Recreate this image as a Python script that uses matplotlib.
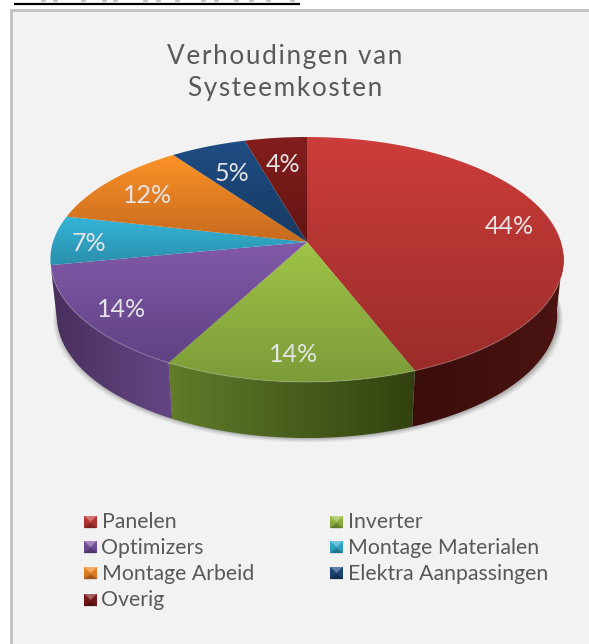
import numpy as np
import matplotlib
matplotlib.use("Agg")
import matplotlib.pyplot as plt
from matplotlib.patches import Polygon, Rectangle
from matplotlib.colors import LinearSegmentedColormap

plt.rcParams['font.family'] = ['Lato', 'DejaVu Sans']

# data
title_lines = ["Verhoudingen van", "Systeemkosten"]
categories = ["Panelen", "Inverter", "Optimizers", "Montage Materialen",
              "Montage Arbeid", "Elektra Aanpassingen", "Overig"]
values = [44.0, 13.9, 14.1, 6.5, 11.5, 5.5, 4.5]
percent_labels = ["44%", "14%", "14%", "7%", "12%", "5%", "4%"]

# colours: top face (light, dark), side wall (left, right)
top_colors = [("#cc3d3b", "#9a2c29"), ("#9fc447", "#7c9b39"), ("#8259a9", "#5f4283"),
              ("#35b5d8", "#2b8fac"), ("#fd9227", "#c56a1f"), ("#1f4d84", "#173a62"),
              ("#821e1d", "#641413")]
wall_colors = [("#3a0d0b", "#4a1411"), ("#617c2b", "#32410f"), ("#654686", "#472f5c")]

W, H = 589, 644
BG = "#f2f2f2"
TXT = "#595959"

# pie geometry in pixels, small perspective so the centre sits above the ellipse centre
CX, CY = 307, 242
RX, RY = 254, 120
K = 0.143
DEPTH = 56
BOTTOM_SCALE = 0.975


def project(frac, r=1.0):
    # frac = part of the circle, clockwise from 12 o'clock
    a = 2 * np.pi * np.asarray(frac)
    u = r * np.sin(a)
    v = r * np.cos(a)
    w = 1 + K * v
    return CX + RX * u / w, CY - RY * v / w


def grad_fill(ax, pts, c1, c2, vertical=True, zorder=2):
    pts = np.asarray(pts)
    x0, x1 = pts[:, 0].min(), pts[:, 0].max()
    y0, y1 = pts[:, 1].min(), pts[:, 1].max()
    cmap = LinearSegmentedColormap.from_list("g", [c1, c2])
    g = np.linspace(0, 1, 256)
    g = g[:, None] if vertical else g[None, :]
    im = ax.imshow(g, cmap=cmap, extent=(x0, x1, y1, y0), origin="upper",
                   aspect="auto", interpolation="bilinear", zorder=zorder)
    patch = Polygon(pts, closed=True, transform=ax.transData, fc="none", ec="none")
    ax.add_patch(patch)
    im.set_clip_path(patch)
    return im


fig = plt.figure(figsize=(W / 100, H / 100), dpi=100, facecolor="white")
ax = fig.add_axes([0, 0, 1, 1])
ax.set_axis_off()

# chart frame + the underlined line cut off above it
ax.add_patch(Rectangle((11, 10), W, H, fc=BG, ec="#c0c0c0", lw=2, zorder=0))
ax.plot([14, 300], [4, 4], color="black", lw=1.6, zorder=1, solid_capstyle="butt")
for x in [42, 54, 82, 103, 114, 144, 157, 176, 202, 215, 235, 250, 267, 291]:
    ax.plot([x, x + 3], [0.6, 0.6], color="#b5b5b5", lw=1.2, zorder=1)

# title
for line, y in zip(title_lines, [56, 88]):
    ax.text(285, y, "\u200a".join(line), ha="center", va="center",
            fontsize=18.8, color=TXT)

cum = np.concatenate([[0], np.cumsum(values)]) / np.sum(values)


def wall_bottom(x, y):
    return CX + (x - CX) * BOTTOM_SCALE, y + DEPTH


# shadow below the wall
t = np.linspace(0.24, 0.76, 200)
sx, sy = wall_bottom(*project(t))
for grow, alpha in [(5, .05), (4, .07), (3, .09), (2, .12), (1, .15)]:
    px = CX + (sx - CX) * (1 + grow / 260) + 1
    py = sy + grow * 0.9
    ax.fill(px, py, color="#555555", alpha=alpha, lw=0, zorder=1)

# side walls, only the first three slices reach the front
for i in range(3):
    a0 = max(cum[i], 0.265)
    t = np.linspace(a0, cum[i + 1], 80)
    x, y = project(t)
    bx, by = wall_bottom(x, y)
    pts = np.r_[np.c_[x, y], np.c_[bx, by][::-1]]
    c1, c2 = wall_colors[i]
    # wall gradient runs left to right on screen
    if i == 2:
        grad_fill(ax, pts, c2, c1, vertical=False, zorder=2)
    else:
        grad_fill(ax, pts, c1, c2, vertical=False, zorder=2)

# top faces
for i in range(len(values)):
    t = np.linspace(cum[i], cum[i + 1], 120)
    x, y = project(t)
    pts = np.r_[[[CX, CY]], np.c_[x, y]]
    grad_fill(ax, pts, top_colors[i][0], top_colors[i][1], zorder=3)
    # light rim on the front edge
    front = (t > 0.3) & (t < 0.72)
    if front.sum() > 1:
        ax.plot(x[front], y[front], color="white", alpha=0.16, lw=1.0, zorder=4)

# data labels
label_r = [0.83, 0.81, 0.84, 0.86, 0.80, 0.73, 0.75]
for i, lab in enumerate(percent_labels):
    lx, ly = project((cum[i] + cum[i + 1]) / 2, label_r[i])
    ax.text(lx, ly + 3, lab, ha="center", va="center", fontsize=18, color="#e4e4e4", zorder=5)

# legend, two columns filled row by row
leg_x = [84, 330]
leg_y = [522, 547, 573, 600]
S = 13
for i, name in enumerate(categories):
    bx, by = leg_x[i % 2], leg_y[i // 2]
    c1, c2 = top_colors[i]
    grad_fill(ax, [(bx, by - S / 2), (bx + S, by - S / 2), (bx + S, by + S / 2), (bx, by + S / 2)],
              c1, c2, zorder=3)
    # bevel of the marker
    ax.add_patch(Polygon([(bx, by - S / 2), (bx + S, by - S / 2), (bx + S / 2, by)],
                         fc="white", ec="none", alpha=0.3, zorder=4))
    ax.add_patch(Polygon([(bx, by + S / 2), (bx + S, by + S / 2), (bx + S / 2, by + 1)],
                         fc="black", ec="none", alpha=0.2, zorder=4))
    ax.text(bx + 17.5, by + 0.5, name, ha="left", va="center", fontsize=15.3, color=TXT, zorder=5)

ax.set_xlim(0, W)
ax.set_ylim(H, 0)
fig.savefig("out.png", dpi=100, facecolor="white")
